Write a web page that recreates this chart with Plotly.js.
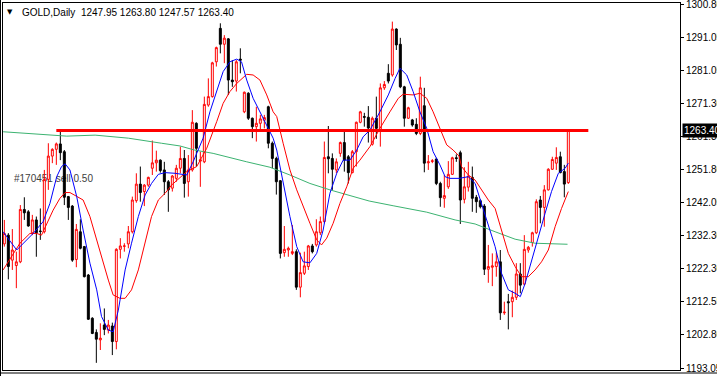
<!DOCTYPE html>
<html><head><meta charset="utf-8">
<script src="https://cdn.plot.ly/plotly-3.0.1.min.js"></script>
<style>html,body{margin:0;padding:0;background:#fff;overflow:hidden}</style>
</head><body><div id="chart" style="width:717px;height:376px"></div>
<script>
// candle index (one per trading day)
const barIndex = [];
for (let i = 0; i < 142; i++) barIndex.push(i);

const openP = [1229.8,1232.4,1225.0,1223.4,1224.5,1240.0,1239.3,1233.1,1236.9,1233.6,
1233.4,1248.9,1255.8,1257.8,1259.4,1257.1,1243.8,1241.0,1225.2,1233.4,
1229.0,1220.6,1207.8,1203.6,1201.4,1205.8,1204.3,1205.5,1200.9,1228.2,
1229.1,1229.8,1233.4,1242.6,1247.5,1245.3,1247.2,1252.2,1253.8,1254.6,
1251.7,1248.2,1246.3,1249.2,1252.2,1255.1,1248.2,1251.7,1265.5,1254.3,
1254.1,1270.9,1273.4,1283.7,1293.6,1288.9,1290.5,1278.3,1278.0,1284.5,
1268.9,1274.4,1267.0,1264.5,1265.5,1266.4,1270.4,1259.6,1255.1,1248.5,
1227.2,1228.0,1227.0,1227.5,1217.0,1221.1,1223.1,1229.2,1229.5,1233.1,
1236.4,1255.6,1255.1,1251.7,1256.6,1259.8,1255.6,1250.9,1257.1,1265.8,
1267.5,1267.3,1259.3,1267.0,1263.5,1276.0,1280.3,1279.8,1293.4,1288.9,
1276.3,1267.0,1266.5,1265.2,1262.5,1270.7,1253.8,1254.2,1254.9,1247.7,
1243.3,1246.7,1250.4,1255.3,1256.8,1243.0,1246.6,1249.5,1243.6,1242.6,
1241.0,1222.3,1222.9,1223.1,1224.5,1209.4,1212.7,1212.7,1214.0,1220.9,
1217.9,1228.0,1230.2,1233.1,1242.8,1240.6,1245.8,1251.9,1253.7,1255.6,
1251.2,1247.95];
const highP = [1236.9,1233.0,1234.2,1227.5,1241.3,1243.6,1239.8,1238.4,1237.9,1240.3,
1251.7,1259.6,1258.1,1259.8,1263.4,1257.6,1244.0,1241.3,1235.7,1237.1,
1229.2,1220.9,1208.1,1204.5,1206.3,1210.7,1207.3,1206.5,1228.5,1231.5,
1230.0,1235.1,1243.8,1250.7,1252.7,1247.5,1249.7,1260.4,1257.4,1254.8,
1254.1,1248.7,1250.2,1253.2,1258.6,1257.6,1256.1,1269.4,1265.8,1257.1,
1273.4,1278.8,1283.7,1288.2,1295.1,1291.6,1290.7,1284.2,1284.2,1287.7,
1274.9,1274.7,1267.2,1270.4,1268.0,1268.0,1270.7,1260.1,1255.6,1248.7,
1235.1,1229.0,1235.4,1228.2,1227.2,1227.5,1229.5,1229.8,1237.1,1237.9,
1260.1,1264.7,1256.6,1255.1,1260.1,1263.0,1256.1,1257.6,1266.0,1269.2,
1268.6,1270.6,1267.5,1273.4,1277.3,1278.0,1283.0,1295.6,1293.6,1290.8,
1276.6,1270.4,1266.8,1267.0,1279.3,1276.0,1256.1,1254.9,1255.3,1248.2,
1250.2,1254.3,1255.6,1256.3,1257.4,1252.5,1254.1,1252.7,1244.3,1243.0,
1241.6,1229.5,1227.0,1227.2,1228.0,1212.7,1215.0,1216.0,1224.1,1224.1,
1232.4,1229.2,1233.4,1243.0,1244.0,1247.2,1252.2,1255.6,1258.4,1257.1,
1253.2,1263.80];
const lowP = [1229.0,1219.3,1222.1,1216.7,1224.1,1236.9,1234.9,1232.4,1226.0,1231.0,
1232.9,1245.8,1253.7,1253.2,1254.6,1241.3,1236.9,1224.5,1222.9,1228.2,
1219.9,1207.3,1203.1,1194.6,1198.4,1202.8,1203.3,1196.9,1198.6,1225.5,
1227.5,1228.5,1232.9,1242.0,1242.3,1241.0,1246.7,1250.2,1251.2,1250.9,
1244.3,1239.3,1245.3,1248.2,1250.7,1243.5,1243.8,1251.2,1252.7,1246.7,
1253.7,1270.4,1273.1,1282.3,1286.2,1283.3,1273.9,1276.3,1274.9,1280.3,
1268.5,1266.5,1261.1,1260.1,1263.0,1264.0,1258.1,1252.2,1244.4,1225.5,
1226.0,1226.0,1226.5,1216.2,1214.0,1220.6,1222.1,1227.0,1229.0,1232.4,
1235.9,1250.7,1245.8,1250.7,1255.6,1251.2,1247.7,1250.7,1252.7,1265.5,
1264.5,1259.8,1258.9,1260.9,1258.6,1275.4,1277.3,1279.3,1287.2,1275.9,
1264.5,1266.8,1264.5,1262.0,1262.0,1251.0,1251.7,1253.7,1247.2,1240.8,
1240.5,1246.1,1250.2,1254.1,1235.7,1241.8,1245.3,1239.3,1239.0,1240.3,
1220.6,1218.3,1217.3,1220.1,1207.3,1208.8,1204.5,1208.1,1213.2,1215.2,
1217.6,1227.2,1229.0,1232.7,1235.9,1234.9,1245.6,1251.7,1251.7,1250.7,
1243.6,1247.57];
const closeP = [1232.9,1223.1,1228.0,1224.5,1240.0,1239.0,1235.1,1236.9,1233.1,1233.5,
1248.9,1255.8,1257.8,1259.4,1256.8,1243.6,1240.6,1225.0,1234.1,1228.5,
1220.1,1207.5,1203.3,1201.6,1201.9,1204.5,1205.8,1200.9,1228.2,1229.2,
1229.2,1233.4,1242.8,1247.5,1245.0,1247.2,1249.5,1253.8,1254.6,1251.5,
1248.2,1245.8,1249.9,1252.2,1255.1,1247.7,1251.7,1265.8,1258.1,1254.7,
1271.1,1273.4,1283.4,1287.9,1288.9,1290.7,1278.3,1277.8,1283.7,1284.2,
1274.7,1267.0,1264.5,1265.5,1266.8,1267.2,1259.6,1255.1,1248.2,1227.0,
1228.2,1228.5,1227.5,1217.0,1221.3,1223.3,1229.2,1227.5,1233.4,1236.4,
1255.4,1255.0,1251.9,1254.1,1259.8,1254.6,1250.9,1257.1,1265.8,1268.9,
1267.3,1264.1,1267.0,1264.0,1276.0,1277.0,1278.0,1293.4,1288.7,1276.3,
1267.0,1270.1,1265.0,1262.5,1276.0,1253.7,1254.1,1254.4,1247.7,1243.5,
1244.1,1250.4,1255.3,1255.1,1242.8,1246.7,1249.9,1243.3,1242.3,1240.8,
1222.3,1223.1,1223.3,1224.5,1209.4,1209.6,1212.4,1214.0,1220.9,1217.6,
1228.2,1228.8,1233.1,1242.3,1240.6,1245.8,1251.9,1254.8,1255.4,1250.9,
1247.5,1263.40];

// fast moving average (blue)
const blueX = [-0.3,3.1,7.2,9.7,11.4,13.1,14.3,15.2,16.4,18.1,19.7,21.4,23.1,24.3,26.0,27.2,28.5,30.2,31.8,33.5,
35.2,36.8,38.5,40.2,42.7,44.7,45.6,47.2,49.7,51.4,53.1,54.7,56.4,58.1,59.3,60.6,62.2,63.9,65.6,67.2,
68.1,69.7,71.4,73.1,74.7,76.4,78.1,79.7,81.4,83.1,84.7,86.4,88.1,89.7,91.4,93.9,96.0,97.7,98.9,100.6,
102.2,103.9,105.6,107.2,108.9,110.2,111.4,113.7,116.0,117.7,119.3,121.0,122.7,124.3,126.0,127.7,129.0,130.2,131.8,133.5,
135.2,136.8,138.5,140.2,141.0];
const blueY = [1233.4,1228.0,1232.9,1236.4,1241.8,1249.7,1252.7,1253.5,1251.7,1243.8,1233.9,1224.1,1216.2,1208.3,1204.3,1203.8,1210.2,1222.1,1230.0,1237.9,
1244.3,1247.7,1250.4,1250.9,1250.7,1250.4,1250.2,1254.1,1261.1,1268.9,1274.9,1280.8,1283.7,1284.5,1283.7,1278.3,1272.9,1268.9,1265.0,1261.1,
1257.6,1247.7,1237.9,1229.0,1224.5,1224.2,1227.0,1233.9,1244.8,1250.7,1254.6,1254.6,1257.6,1261.5,1263.5,1268.9,1273.9,1278.8,1281.8,1279.8,
1274.9,1268.9,1264.0,1257.1,1253.2,1249.7,1249.2,1249.2,1249.7,1247.7,1241.8,1234.9,1229.0,1221.1,1216.2,1215.2,1214.2,1218.1,1225.0,1231.9,
1238.9,1245.3,1250.7,1252.2,1253.7];

// slower moving average (red)
const redX = [-0.3,2.2,3.9,6.4,8.1,9.3,10.6,12.2,13.9,15.2,16.4,18.1,19.7,21.4,22.7,24.3,26.0,27.2,28.9,30.2,
31.8,33.5,35.2,36.8,38.5,40.2,41.8,44.3,45.6,48.1,50.6,53.1,54.7,56.4,58.1,60.6,62.2,63.9,65.6,67.2,
68.1,69.7,71.4,73.1,74.7,76.4,78.1,79.3,80.6,82.2,83.9,85.6,87.2,88.9,91.4,93.9,96.4,98.5,99.7,102.2,
103.9,105.6,107.2,108.9,110.6,112.2,113.7,114.3,116.0,117.7,119.3,121.0,122.7,124.3,126.0,127.7,129.3,131.0,132.7,134.3,
136.0,137.7,139.3,141.0];
const redY = [1222.1,1227.0,1230.0,1232.9,1232.9,1232.4,1235.9,1239.8,1243.3,1245.0,1245.0,1243.8,1242.8,1237.9,1232.4,1226.0,1219.1,1214.7,1213.7,1213.7,
1216.2,1222.1,1230.0,1237.9,1242.8,1244.8,1247.2,1249.7,1251.2,1252.7,1258.1,1266.0,1271.4,1274.9,1277.3,1280.0,1279.8,1278.3,1273.9,1268.9,
1267.5,1259.6,1251.7,1245.8,1240.8,1235.9,1231.0,1229.5,1231.5,1235.9,1241.8,1246.7,1252.2,1254.6,1258.6,1264.0,1268.9,1272.9,1274.1,1273.9,
1274.4,1272.9,1268.9,1264.0,1259.1,1257.6,1255.8,1252.7,1250.2,1248.7,1245.8,1242.8,1240.3,1233.9,1227.0,1223.1,1220.1,1220.1,1222.1,1224.5,
1228.0,1234.9,1240.3,1245.3];

// long moving average (green)
const greenX = [-0.3,7.2,15.6,22.7,31.0,39.3,43.9,47.5,52.2,60.6,66.4,71.4,76.4,81.4,86.4,91.2,97.2,105.6,112.7,117.7,122.7,127.7,132.7,140.8];
const greenY = [1263.0,1262.3,1261.7,1262.0,1261.1,1259.6,1258.8,1257.6,1256.6,1254.1,1252.5,1250.2,1247.7,1245.8,1244.0,1242.5,1241.1,1239.2,1236.9,1235.7,1233.4,1231.2,1230.0,1229.7];

// horizontal level
const levelPrice = 1263.40;
const levelStart = 13;
const levelEnd = 146;

// price axis
const tickVals = [1300.80,1291.005,1281.21,1271.415,1261.62,1251.825,1242.03,1232.235,1222.44,1212.645,1202.85,1193.055];
const tickLabels = ['1300.80','1291.05','1281.05','1271.30','1261.30','1251.80','1242.05','1232.30','1222.30','1212.55','1202.80','1193.05'];

const titleText = 'GOLD,Daily\u00a0 1247.95 1263.80 1247.57 1263.40';
const orderText = '#170451 sell 0.50';

const FONT = 'Liberation Sans, Arial, sans-serif';

const traces = [
  {
    type: 'candlestick', x: barIndex, open: openP, high: highP, low: lowP, close: closeP,
    increasing: {line: {color: '#ff0000', width: 1}, fillcolor: '#ffffff'},
    decreasing: {line: {color: '#000000', width: 1}, fillcolor: '#000000'},
    whiskerwidth: 0, hoverinfo: 'skip', showlegend: false
  },
  {type: 'scatter', mode: 'lines', x: greenX, y: greenY, line: {color: '#3cb371', width: 1}, hoverinfo: 'skip', showlegend: false},
  {type: 'scatter', mode: 'lines', x: redX, y: redY, line: {color: '#ff0000', width: 1}, hoverinfo: 'skip', showlegend: false},
  {type: 'scatter', mode: 'lines', x: blueX, y: blueY, line: {color: '#0000ff', width: 1}, hoverinfo: 'skip', showlegend: false}
];

const layout = {
  width: 717, height: 376,
  margin: {l: 3, r: 37, t: 3, b: 6, pad: 0},
  paper_bgcolor: '#ffffff', plot_bgcolor: '#ffffff',
  showlegend: false,
  xaxis: {
    range: [-0.333, 168.92], showgrid: false, zeroline: false, showticklabels: false, ticks: '',
    showline: true, mirror: true, linecolor: '#000000', linewidth: 1,
    rangeslider: {visible: false}, fixedrange: true
  },
  yaxis: {
    side: 'right', range: [1192.48, 1301.11], tickmode: 'array', tickvals: tickVals, ticktext: tickLabels,
    ticks: 'outside', ticklen: 3, tickcolor: '#000000', tickwidth: 1,
    showline: true, mirror: true, linecolor: '#000000', linewidth: 1,
    showgrid: false, zeroline: false, fixedrange: true, ticklabeloverflow: 'allow',
    tickfont: {family: FONT, size: 10, color: '#000000'}
  },
  shapes: [
    {type: 'line', xref: 'x', yref: 'y', x0: levelStart, x1: levelEnd, y0: levelPrice, y1: levelPrice,
     line: {color: '#ff0000', width: 3}, layer: 'above'},
    {type: 'line', xref: 'paper', yref: 'paper', x0: -0.01, x1: 1.06, y0: -0.0082, y1: -0.0082,
     line: {color: '#000000', width: 1}},
    {type: 'line', xref: 'paper', yref: 'paper', x0: -0.0037, x1: -0.0037, y0: -0.02, y1: 1.01,
     line: {color: '#000000', width: 1}},
    {type: 'rect', xref: 'paper', yref: 'y', x0: 0.0118, x1: 0.2, y0: 1248.4, y1: 1250.4,
     line: {width: 0}, fillcolor: 'rgba(0,0,0,0)', layer: 'below',
     label: {text: orderText, textposition: 'middle left', padding: 0,
             font: {family: FONT, size: 10, color: '#404040'}}}
  ],
  annotations: [
    {xref: 'paper', yref: 'paper', x: 0.0103, y: 0.9755, xanchor: 'center', yanchor: 'middle',
     text: '\u25BC', showarrow: false, font: {family: 'DejaVu Sans', size: 7, color: '#000000'}},
    {xref: 'paper', yref: 'paper', x: 0.0251, y: 0.9747, xanchor: 'left', yanchor: 'middle',
     text: titleText, showarrow: false, font: {family: FONT, size: 10, color: '#000000'}},
    {xref: 'paper', yref: 'y', x: 1, y: levelPrice, xanchor: 'left', yanchor: 'middle', xshift: 2,
     text: '1263.40', showarrow: false, bgcolor: '#000000', borderpad: 1,
     font: {family: FONT, size: 10, color: '#ffffff'}}
  ]
};

Plotly.newPlot('chart', traces, layout, {staticPlot: true, displayModeBar: false});
</script>
</body></html>
